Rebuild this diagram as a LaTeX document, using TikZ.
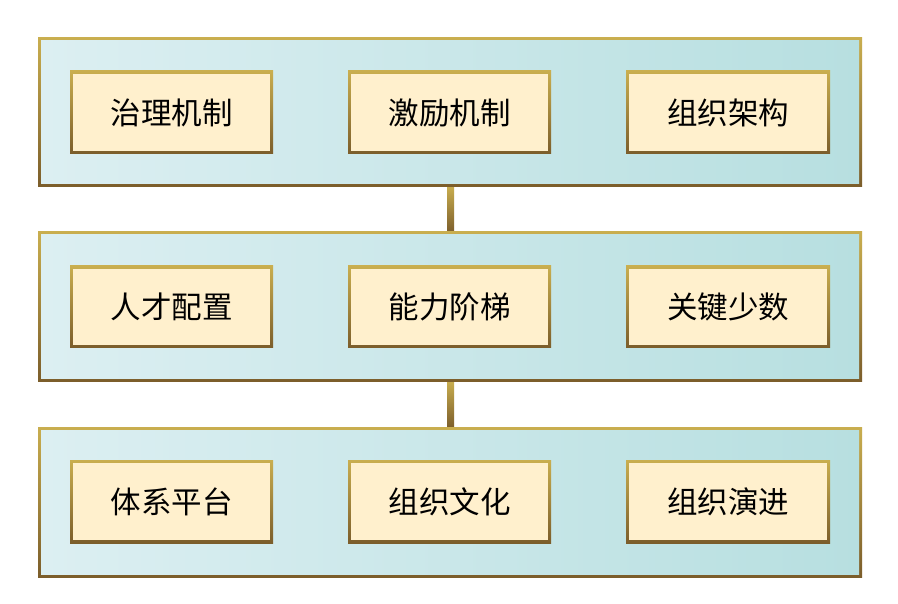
\documentclass[tikz,border=0pt]{standalone}
\usepackage{fontspec}
\newfontfamily\cjk{Noto Sans CJK SC}
\definecolor{gold}{HTML}{C9AE4F}
\definecolor{brownb}{HTML}{7B5D2B}
\definecolor{panelL}{HTML}{DCEFF2}
\definecolor{panelR}{HTML}{B7DFE0}
\definecolor{cream}{HTML}{FFF0CD}
\tikzset{
  goldframe/.style={top color=gold,bottom color=brownb,draw=none},
  panelfill/.style={left color=panelL,right color=panelR,draw=none},
  itemfill/.style={fill=cream,draw=none},
  itemtext/.style={font=\cjk\fontsize{30.5}{36}\selectfont,text=black,inner sep=0pt},
}
\newcommand{\mypanel}[3]{% name, top, bottom
  \path[goldframe] (38,#2) rectangle (862,#3);
  \path[panelfill] (41,#2+3) rectangle (859,#3-3);
  \coordinate (#1top) at (450,#2);
  \coordinate (#1bot) at (450,#3);
}
\newcommand{\myitembox}[6]{% name, x1, y1, x2, y2, text
  \path[goldframe] (#2,#3) rectangle (#4,#5);
  \path[itemfill] (#2+3,#3+3) rectangle (#4-3,#5-3);
  \node[itemtext] (#1) at ({(#2+#4)/2},{(#3+#5)/2}) {#6};
}
\begin{document}
\begin{tikzpicture}[x=1pt,y=-1pt]
\path[fill=white] (0,0) rectangle (898,604);
\useasboundingbox (0,0) rectangle (898,604);
% connectors
\path[goldframe] (447,186) rectangle (454,233);
\path[goldframe] (447,381) rectangle (454,428);
% panels
\mypanel{p1}{38}{187}
\mypanel{p2}{232}{382}
\mypanel{p3}{427}{577}
% row 1
\myitembox{a1}{70}{71}{273}{154}{治理机制}
\myitembox{a2}{348}{71}{551}{154}{激励机制}
\myitembox{a3}{626}{71}{830}{154}{组织架构}
% row 2
\myitembox{b1}{70}{266}{273}{348}{人才配置}
\myitembox{b2}{348}{266}{551}{348}{能力阶梯}
\myitembox{b3}{626}{266}{830}{348}{关键少数}
% row 3
\myitembox{c1}{70}{460}{273}{543}{体系平台}
\myitembox{c2}{348}{460}{551}{543}{组织文化}
\myitembox{c3}{626}{460}{830}{543}{组织演进}
\end{tikzpicture}
\end{document}
